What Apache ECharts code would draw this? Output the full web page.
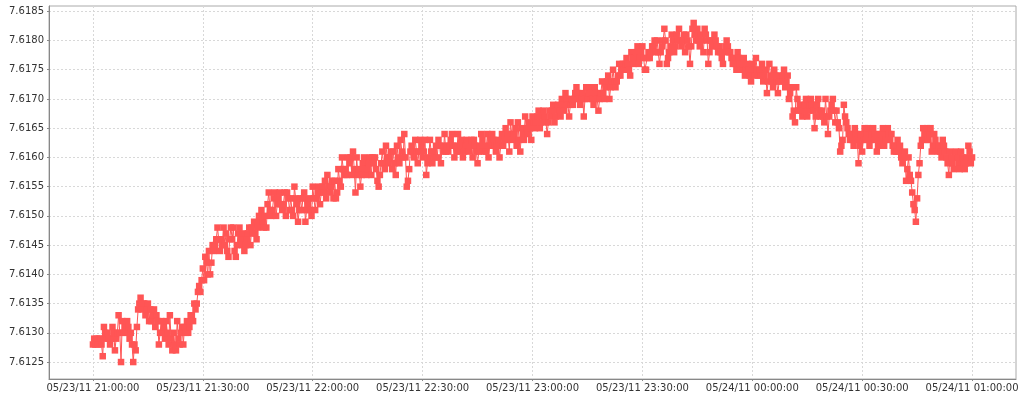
<!DOCTYPE html>
<html lang="en">
<head>
    <meta charset="UTF-8">
    <title>Rate 05/23/11</title>
    <style>
        html, body { margin: 0; padding: 0; background: #fff; }
        #main { width: 1024px; height: 400px; }
    </style>
</head>
<body>
    <div id="main"></div>
    <script src="https://cdn.jsdelivr.net/npm/echarts@6/dist/echarts.min.js"></script>
    <script>
        // x in minutes after 05/23/11 21:00:00, one sample every 20 s
        var stepSec = 20;
        var xTicks = [0, 30, 60, 90, 120, 150, 180, 210, 240];
        var xTickLabels = ['05/23/11 21:00:00', '05/23/11 21:30:00', '05/23/11 22:00:00', '05/23/11 22:30:00',
            '05/23/11 23:00:00', '05/23/11 23:30:00', '05/24/11 00:00:00', '05/24/11 00:30:00', '05/24/11 01:00:00'];
        var yTicks = [7.6125, 7.6130, 7.6135, 7.6140, 7.6145, 7.6150, 7.6155, 7.6160, 7.6165, 7.6170, 7.6175, 7.6180, 7.6185];

        // 21:00 - 21:59:40
        var h21 = [
            7.6128, 7.6129, 7.6128, 7.6129, 7.6128, 7.6129, 7.6129, 7.6128, 7.6126, 7.6131, 7.6130, 7.6129, 7.6130, 7.6129, 7.6128,
            7.6129, 7.6131, 7.6130, 7.6127, 7.6129, 7.6130, 7.6133, 7.6130, 7.6125, 7.6132, 7.6130, 7.6131, 7.6130, 7.6132, 7.6131,
            7.6129, 7.6130, 7.6128, 7.6125, 7.6128, 7.6127, 7.6131, 7.6134, 7.6135, 7.6136, 7.6134, 7.6135, 7.6135, 7.6133, 7.6134,
            7.6135, 7.6132, 7.6134, 7.6132, 7.6133, 7.6134, 7.6131, 7.6133, 7.6132, 7.6128, 7.6130, 7.6132, 7.6130, 7.6131, 7.6129,
            7.6132, 7.6130, 7.6128, 7.6133, 7.6129, 7.6127, 7.6130, 7.6128, 7.6127, 7.6132, 7.6129, 7.6128, 7.6130, 7.6131, 7.6128,
            7.6131, 7.6130, 7.6132, 7.6130, 7.6131, 7.6133, 7.6133, 7.6132, 7.6135, 7.6134, 7.6135, 7.6137, 7.6138, 7.6137, 7.6139,
            7.6141, 7.6139, 7.6143, 7.6142, 7.6140, 7.6144, 7.6140, 7.6142, 7.6145, 7.6144, 7.6145, 7.6146, 7.6148, 7.6146, 7.6144,
            7.6146, 7.6145, 7.6148, 7.6145, 7.6147, 7.6144, 7.6143, 7.6146, 7.6148, 7.6146, 7.6148, 7.6144, 7.6143, 7.6145, 7.6147,
            7.6148, 7.6146, 7.6145, 7.6147, 7.6144, 7.6145, 7.6146, 7.6147, 7.6148, 7.6145, 7.6148, 7.6147, 7.6149, 7.6147, 7.6146,
            7.6148, 7.6150, 7.6149, 7.6151, 7.6149, 7.6148, 7.6150, 7.6148, 7.6152, 7.6154, 7.6151, 7.6150, 7.6151, 7.6153, 7.6154,
            7.6150, 7.6152, 7.6153, 7.6154, 7.6152, 7.6151, 7.6152, 7.6154, 7.6150, 7.6154, 7.6153, 7.6151, 7.6153, 7.6151, 7.6150,
            7.6155, 7.6153, 7.6152, 7.6149, 7.6151, 7.6153, 7.6151, 7.6153, 7.6154, 7.6149, 7.6151, 7.6152, 7.6153, 7.6151, 7.6150
        ];
        // 22:00 - 22:59:40
        var h22 = [
            7.6155, 7.6153, 7.6151, 7.6153, 7.6154, 7.6155, 7.6152, 7.6154, 7.6155, 7.6154, 7.6156, 7.6153, 7.6157, 7.6155, 7.6154,
            7.6155, 7.6156, 7.6153, 7.6156, 7.6153, 7.6154, 7.6158, 7.6156, 7.6155, 7.6160, 7.6158, 7.6157, 7.6158, 7.6157, 7.6160,
            7.6159, 7.6160, 7.6157, 7.6161, 7.6158, 7.6154, 7.6160, 7.6157, 7.6158, 7.6155, 7.6157, 7.6159, 7.6160, 7.6158, 7.6157,
            7.6158, 7.6159, 7.6160, 7.6157, 7.6160, 7.6159, 7.6160, 7.6158, 7.6156, 7.6155, 7.6157, 7.6159, 7.6161, 7.6159, 7.6158,
            7.6162, 7.6160, 7.6159, 7.6160, 7.6161, 7.6158, 7.6161, 7.6159, 7.6157, 7.6162, 7.6160, 7.6159, 7.6163, 7.6161, 7.6160,
            7.6164, 7.6160, 7.6155, 7.6156, 7.6158, 7.6161, 7.6162, 7.6161, 7.6160, 7.6163, 7.6161, 7.6159, 7.6161, 7.6163, 7.6162,
            7.6160, 7.6161, 7.6163, 7.6157, 7.6159, 7.6160, 7.6163, 7.6161, 7.6159, 7.6161, 7.6160, 7.6162, 7.6160, 7.6163, 7.6162,
            7.6159, 7.6162, 7.6161, 7.6164, 7.6161, 7.6162, 7.6161, 7.6162, 7.6163, 7.6164, 7.6162, 7.6160, 7.6162, 7.6161, 7.6164,
            7.6161, 7.6162, 7.6163, 7.6160, 7.6161, 7.6162, 7.6163, 7.6162, 7.6161, 7.6162, 7.6163, 7.6160, 7.6163, 7.6162, 7.6161,
            7.6159, 7.6161, 7.6162, 7.6164, 7.6163, 7.6161, 7.6162, 7.6161, 7.6164, 7.6160, 7.6162, 7.6163, 7.6164, 7.6163, 7.6162,
            7.6161, 7.6162, 7.6163, 7.6160, 7.6162, 7.6164, 7.6162, 7.6163, 7.6165, 7.6163, 7.6164, 7.6161, 7.6166, 7.6164, 7.6163,
            7.6164, 7.6165, 7.6162, 7.6166, 7.6163, 7.6161, 7.6165, 7.6164, 7.6163, 7.6167, 7.6165, 7.6164, 7.6166, 7.6165, 7.6163
        ];
        // 23:00 - 23:59:40
        var h23 = [
            7.6167, 7.6166, 7.6165, 7.6166, 7.6167, 7.6168, 7.6165, 7.6166, 7.6167, 7.6168, 7.6167, 7.6166, 7.6164, 7.6166, 7.6168,
            7.6167, 7.6168, 7.6169, 7.6166, 7.6167, 7.6168, 7.6169, 7.6168, 7.6167, 7.6170, 7.6169, 7.6168, 7.6171, 7.6170, 7.6169,
            7.6167, 7.6169, 7.6170, 7.6169, 7.6170, 7.6171, 7.6172, 7.6171, 7.6170, 7.6169, 7.6170, 7.6171, 7.6167, 7.6170, 7.6172,
            7.6170, 7.6171, 7.6172, 7.6171, 7.6170, 7.6169, 7.6172, 7.6171, 7.6170, 7.6168, 7.6170, 7.6171, 7.6173, 7.6171, 7.6170,
            7.6172, 7.6173, 7.6174, 7.6170, 7.6172, 7.6173, 7.6175, 7.6173, 7.6172, 7.6173, 7.6174, 7.6176, 7.6174, 7.6175, 7.6176,
            7.6175, 7.6176, 7.6177, 7.6176, 7.6175, 7.6174, 7.6178, 7.6177, 7.6176, 7.6177, 7.6178, 7.6179, 7.6176, 7.6177, 7.6178,
            7.6179, 7.6177, 7.6175, 7.6175, 7.6177, 7.6178, 7.6177, 7.6178, 7.6179, 7.6179, 7.6180, 7.6178, 7.6180, 7.6178, 7.6176,
            7.6178, 7.6179, 7.6180, 7.6182, 7.6180, 7.6176, 7.6177, 7.6178, 7.6179, 7.6181, 7.6180, 7.6178, 7.6179, 7.6181, 7.6180,
            7.6182, 7.6180, 7.6179, 7.6180, 7.6181, 7.6178, 7.6181, 7.6180, 7.6179, 7.6176, 7.6179, 7.6182, 7.6183, 7.6181, 7.6180,
            7.6182, 7.6180, 7.6179, 7.6181, 7.6180, 7.6178, 7.6182, 7.6181, 7.6180, 7.6176, 7.6178, 7.6180, 7.6179, 7.6180, 7.6181,
            7.6180, 7.6179, 7.6178, 7.6179, 7.6178, 7.6177, 7.6176, 7.6178, 7.6179, 7.6180, 7.6179, 7.6178, 7.6178, 7.6177, 7.6176,
            7.6177, 7.6176, 7.6175, 7.6178, 7.6177, 7.6176, 7.6175, 7.6176, 7.6177, 7.6174, 7.6175, 7.6176, 7.6175, 7.6174, 7.6173
        ];
        // 00:00 - 01:00:00
        var h00 = [
            7.6176, 7.6175, 7.6174, 7.6177, 7.6175, 7.6174, 7.6175, 7.6174, 7.6176, 7.6173, 7.6174, 7.6175, 7.6171, 7.6173, 7.6176,
            7.6174, 7.6173, 7.6172, 7.6175, 7.6174, 7.6173, 7.6171, 7.6173, 7.6174, 7.6173, 7.6174, 7.6175, 7.6172, 7.6173, 7.6174,
            7.6170, 7.6171, 7.6172, 7.6167, 7.6168, 7.6166, 7.6172, 7.6170, 7.6168, 7.6169, 7.6168, 7.6167, 7.6168, 7.6169, 7.6170,
            7.6167, 7.6168, 7.6169, 7.6170, 7.6169, 7.6168, 7.6165, 7.6167, 7.6169, 7.6170, 7.6168, 7.6167, 7.6168, 7.6167, 7.6166,
            7.6170, 7.6167, 7.6164, 7.6167, 7.6168, 7.6169, 7.6170, 7.6168, 7.6166, 7.6168, 7.6166, 7.6165, 7.6161, 7.6162, 7.6163,
            7.6169, 7.6167, 7.6166, 7.6165, 7.6164, 7.6163, 7.6164, 7.6163, 7.6162, 7.6165, 7.6164, 7.6163, 7.6159, 7.6162, 7.6164,
            7.6161, 7.6163, 7.6165, 7.6163, 7.6164, 7.6165, 7.6162, 7.6163, 7.6164, 7.6165, 7.6164, 7.6163, 7.6161, 7.6162, 7.6164,
            7.6163, 7.6164, 7.6165, 7.6162, 7.6163, 7.6164, 7.6165, 7.6164, 7.6163, 7.6164, 7.6162, 7.6161, 7.6162, 7.6161, 7.6163,
            7.6161, 7.6162, 7.6160, 7.6159, 7.6160, 7.6161, 7.6156, 7.6158, 7.6160, 7.6157, 7.6156, 7.6154, 7.6152, 7.6151, 7.6149,
            7.6153, 7.6157, 7.6159, 7.6162, 7.6163, 7.6165, 7.6164, 7.6163, 7.6165, 7.6163, 7.6164, 7.6165, 7.6161, 7.6162, 7.6164,
            7.6163, 7.6162, 7.6161, 7.6162, 7.6161, 7.6160, 7.6163, 7.6162, 7.6161, 7.6160, 7.6159, 7.6157, 7.6161, 7.6160, 7.6159,
            7.6158, 7.6160, 7.6161, 7.6160, 7.6159, 7.6158, 7.6161, 7.6160, 7.6159, 7.6158, 7.6159, 7.6160, 7.6162, 7.6161, 7.6159,
            7.6160
        ];

        var rates = h21.concat(h22, h23, h00);
        var DataShow = [];
        for (var i = 0; i < rates.length; i++) {
            DataShow.push([i * stepSec / 60, rates[i]]);
        }

        var myChart = echarts.init(document.getElementById('main'));
        var labelFont = { fontFamily: 'DejaVu Sans', fontSize: 10, color: '#333' };
        var gridLine = { show: true, lineStyle: { color: '#d8d8d8', type: [2, 2], width: 1 } };

        var option = {
            animation: false,
            backgroundColor: '#fff',
            grid: {
                left: 49,
                right: 8,
                top: 6,
                bottom: 21,
                show: true,
                borderColor: '#aaa',
                borderWidth: 1
            },
            xAxis: {
                type: 'value',
                min: -12,
                max: 252,
                axisLine: { onZero: false, lineStyle: { color: '#888' } },
                axisTick: { show: true, length: 2, customValues: xTicks, lineStyle: { color: '#888' } },
                axisLabel: Object.assign({
                    customValues: xTicks,
                    margin: 4,
                    formatter: function (v) { return xTickLabels[xTicks.indexOf(v)]; }
                }, labelFont),
                splitLine: gridLine
            },
            yAxis: {
                type: 'value',
                min: 7.61221,
                max: 7.61859,
                axisLine: { show: true, onZero: false, lineStyle: { color: '#888' } },
                axisTick: { show: true, length: 2, customValues: yTicks, lineStyle: { color: '#888' } },
                axisLabel: Object.assign({
                    customValues: yTicks,
                    margin: 5,
                    formatter: function (v) { return v.toFixed(4); }
                }, labelFont),
                splitLine: gridLine
            },
            series: [{
                type: 'line',
                data: DataShow,
                symbol: 'rect',
                symbolSize: 6.5,
                showAllSymbol: true,
                sampling: null,
                lineStyle: { color: '#ff5555', width: 1 },
                itemStyle: { color: '#ff5555', borderWidth: 0, opacity: 1 }
            }]
        };
        myChart.setOption(option);
    </script>
</body>
</html>
